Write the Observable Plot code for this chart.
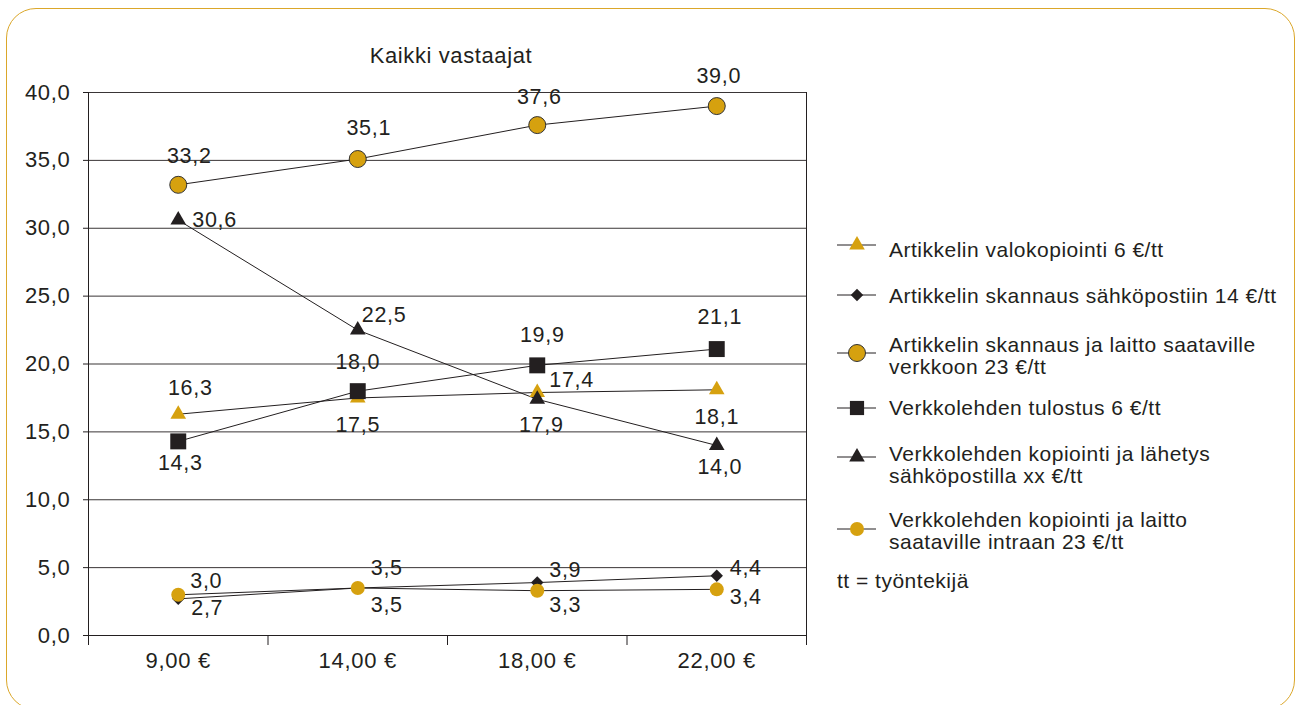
<!DOCTYPE html>
<html>
<head>
<meta charset="utf-8">
<script src="https://cdn.jsdelivr.net/npm/d3@7"></script>
<script src="https://cdn.jsdelivr.net/npm/@observablehq/plot@0.6"></script>
<style>
  html, body { margin: 0; padding: 0; background: #fff; }
  #wrap { position: relative; width: 1301px; height: 705px; overflow: hidden; font-family: "Liberation Sans", Arial, sans-serif; color: #231f20; }
  #frame { position: absolute; left: 6px; top: 8px; width: 1289px; height: 702px; border: 1.5px solid #DBA72A; border-radius: 30px; box-sizing: border-box; }
  #chart { position: absolute; left: 0; top: 0; }
  #title { position: absolute; left: 251px; width: 400px; top: 45px; text-align: center; font-size: 22px; line-height: 22px; letter-spacing: 0.6px; }
  .legtext { position: absolute; left: 889px; font-size: 21px; line-height: 21.7px; letter-spacing: 0.5px; white-space: nowrap; }
  .legsym { position: absolute; left: 836px; }
</style>
</head>
<body>
<div id="wrap">
  <div id="frame"></div>
  <div id="chart"></div>
  <div id="title">Kaikki vastaajat</div>
  <div id="legend"></div>
</div>
<script>
// ---- data ----
const categories = ["9,00 €", "14,00 €", "18,00 €", "22,00 €"];
const seriesNames = [
  "Artikkelin valokopiointi 6 €/tt",
  "Artikkelin skannaus sähköpostiin 14 €/tt",
  "Artikkelin skannaus ja laitto saataville\nverkkoon 23 €/tt",
  "Verkkolehden tulostus 6 €/tt",
  "Verkkolehden kopiointi ja lähetys\nsähköpostilla xx €/tt",
  "Verkkolehden kopiointi ja laitto\nsaataville intraan 23 €/tt"
];
const valokopiointi   = [16.3, 17.5, 17.9, 18.1];
const skannausSposti  = [2.7, 3.5, 3.9, 4.4];
const skannausVerkko  = [33.2, 35.1, 37.6, 39.0];
const tulostus        = [14.3, 18.0, 19.9, 21.1];
const kopiointiSposti = [30.6, 22.5, 17.4, 14.0];
const kopiointiIntra  = [3.0, 3.5, 3.3, 3.4];
const yTicks = [0, 5, 10, 15, 20, 25, 30, 35, 40];
const footnote = "tt = työntekijä";

// ---- styles (separate from data) ----
const GOLD = "#D6A10F", INK = "#231f20";
const seriesValues = [valokopiointi, skannausSposti, skannausVerkko, tulostus, kopiointiSposti, kopiointiIntra];
const seriesStyle = [
  {symbol: "triangle", fill: GOLD, stroke: "none", r: 5.8},
  {symbol: "diamond2", fill: INK, stroke: "none", r: 5.6},
  {symbol: "circle", fill: GOLD, stroke: "#333", r: 8.5},
  {symbol: "square", fill: INK, stroke: "none", r: 9},
  {symbol: "triangle", fill: INK, stroke: "none", r: 5.8},
  {symbol: "circle", fill: GOLD, stroke: "none", r: 7}
];
// label placement [dx, dy, anchor] per series per category
const labelPlacement = [
  [[12, -26, "middle"], [0, 27, "middle"], [4, 33, "middle"], [0, 27, "middle"]],
  [[13, 9, "start"], [13, -20, "start"], [12, -12, "start"], [13, -8, "start"]],
  [[11, -29, "middle"], [11, -31, "middle"], [2, -28, "middle"], [2, -30, "middle"]],
  [[2, 22, "middle"], [0, -29, "middle"], [5, -30, "middle"], [3, -32, "middle"]],
  [[14, 0, "start"], [4, -15, "start"], [12, -19, "start"], [3, 22, "middle"]],
  [[12, -14, "start"], [13, 17, "start"], [12, 14, "start"], [13, 8, "start"]]
];
// legend layout: symbol line y, text top
const legendLayout = [[244.5, 238.5], [295, 285], [353, 334], [407.5, 397], [457, 443], [529, 509]];

const fmt = v => v.toFixed(1).replace(".", ",");

const rows = [];
seriesValues.forEach((vals, s) => vals.forEach((v, i) => rows.push({s, i, v})));

const marks = [
  Plot.gridY(yTicks, {stroke: INK, strokeOpacity: 0.9, strokeWidth: 1}),
  Plot.ruleX([-0.5], {stroke: INK}),
  Plot.ruleX([3.5], {stroke: INK}),
  Plot.ruleY([0], {stroke: INK}),
  Plot.axisY({ticks: yTicks, tickSize: 5, tickPadding: 13, tickFormat: fmt, label: null, fontSize: 22, stroke: INK}),
  Plot.axisX({ticks: [-0.5, 0.5, 1.5, 2.5, 3.5], tickSize: 10, tickFormat: () => "", label: null, stroke: INK}),
  Plot.axisX({ticks: [0, 1, 2, 3], tickSize: 0, tickPadding: 17, tickFormat: i => categories[i], label: null, fontSize: 22}),
  Plot.line(rows, {x: "i", y: "v", z: "s", stroke: INK, strokeWidth: 1})
];
seriesStyle.forEach((st, s) => {
  marks.push(Plot.dot(rows.filter(d => d.s === s), {x: "i", y: "v", symbol: st.symbol, fill: st.fill, stroke: st.stroke, strokeWidth: 1, r: st.r}));
});
rows.forEach(d => {
  const [dx, dy, anchor] = labelPlacement[d.s][d.i];
  marks.push(Plot.text([d], {x: "i", y: "v", text: d => fmt(d.v), dx, dy, textAnchor: anchor, fontSize: 21.5, fill: INK}));
});

const chart = Plot.plot({
  width: 1301,
  height: 705,
  marginLeft: 88,
  marginRight: 495,
  marginTop: 92,
  marginBottom: 70,
  x: {type: "linear", domain: [-0.5, 3.5], axis: null},
  y: {domain: [0, 40], axis: null},
  style: {fontFamily: "'Liberation Sans', Arial, sans-serif", color: INK, background: "transparent", letterSpacing: "0.7px", overflow: "visible"},
  marks
});
document.getElementById("chart").appendChild(chart);

// ---- legend (HTML + d3 symbols) ----
const legend = d3.select("#legend");
const symMap = {triangle: d3.symbolTriangle, diamond2: d3.symbolDiamond2, circle: d3.symbolCircle, square: d3.symbolSquare};
seriesNames.forEach((name, s) => {
  const [ly, ty] = legendLayout[s];
  const st = seriesStyle[s];
  const svg = legend.append("svg").attr("class", "legsym")
    .attr("width", 42).attr("height", 24)
    .style("top", (ly - 12) + "px");
  svg.append("line").attr("x1", 1).attr("x2", 40).attr("y1", 12).attr("y2", 12).attr("stroke", INK).attr("stroke-width", 1);
  const r = s === 3 ? 8 : st.r;
  svg.append("path")
    .attr("transform", "translate(21,12)")
    .attr("d", d3.symbol().type(symMap[st.symbol]).size(Math.PI * r * r)())
    .attr("fill", st.fill).attr("stroke", st.stroke).attr("stroke-width", 1);
  const t = legend.append("div").attr("class", "legtext").style("top", ty + "px");
  name.split("\n").forEach((ln, k) => { if (k) t.append("br"); t.append("span").text(ln); });
});
legend.append("div").attr("class", "legtext").style("left", "837px").style("top", "570px").text(footnote);
</script>
</body>
</html>
